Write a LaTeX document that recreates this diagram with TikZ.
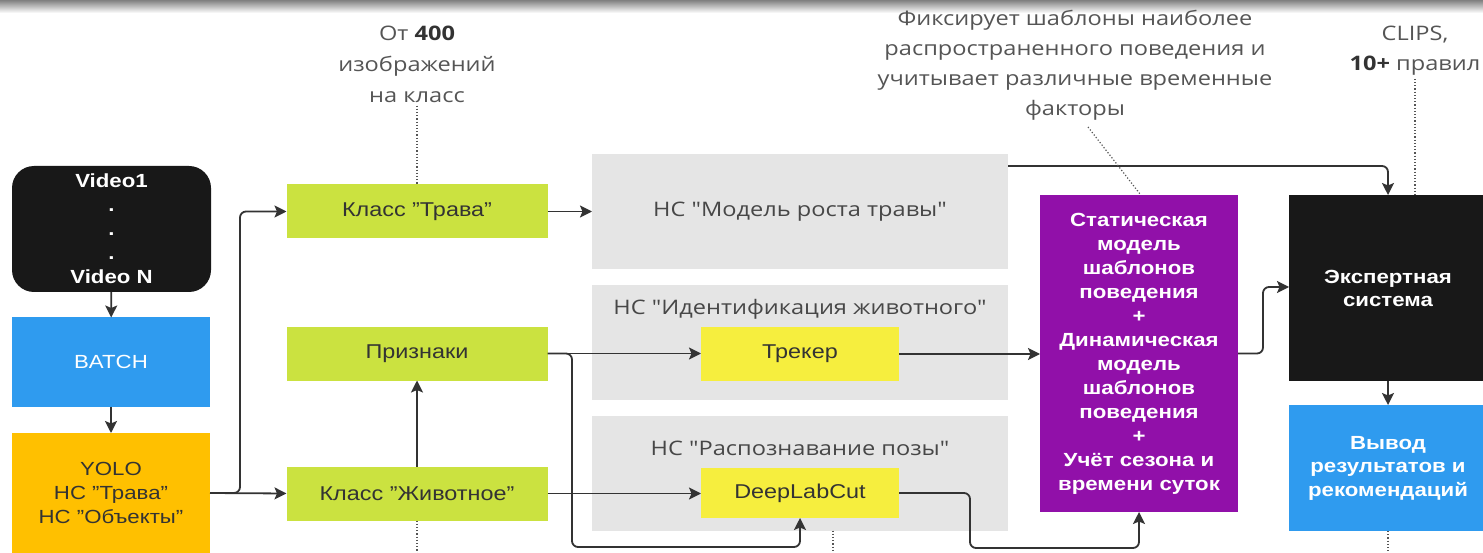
\documentclass[tikz,border=0pt]{standalone}
\usepackage{fontspec}
\setmainfont{Liberation Sans}[FakeStretch=1.17]
\newfontfamily\osans{Open Sans}[FakeStretch=1.18]
\usetikzlibrary{arrows.meta}

\definecolor{ink}{HTML}{333333}
\definecolor{note}{HTML}{555555}
\definecolor{lime}{HTML}{CBE240}
\definecolor{lemon}{HTML}{F6EE3E}
\definecolor{sky}{HTML}{2F9BEF}
\definecolor{amber}{HTML}{FFC000}
\definecolor{violet}{HTML}{9110A9}
\definecolor{panel}{HTML}{E5E5E5}
\definecolor{coal}{HTML}{181818}

\tikzset{
  blk/.style={inner sep=0pt, outer sep=0pt, align=center},
  dark/.style={blk, fill=coal, text=white},
  limebox/.style={blk, fill=lime, text=ink, minimum width=261pt, minimum height=54pt,
                  font=\fontsize{20}{24}\selectfont},
  lemonbox/.style={blk, fill=lemon, text=ink, minimum width=198pt, minimum height=52pt,
                  font=\fontsize{20}{24}\selectfont},
  panelbox/.style={blk, fill=panel, minimum width=416pt, minimum height=115pt},
  paneltitle/.style={inner sep=0pt, text=ink!90, font=\osans\fontsize{20}{24}\selectfont},
  noteText/.style={inner sep=0pt, align=center, text=note, font=\osans\fontsize{20}{30}\selectfont},
  arr/.style={draw=ink, line width=1.8pt, rounded corners=6pt,
              -{Stealth[length=12pt, width=12pt, inset=2.5pt]}},
  pointer/.style={draw=note, line width=1.2pt, dotted},
}

\begin{document}
\begin{tikzpicture}[x=1pt, y=-1pt]
\useasboundingbox (0,0) rectangle (1483,553);
\fill[white] (0,0) rectangle (1483,553);
\shade[top color=black!50, bottom color=white] (0,0) rectangle (1483,13);

% --- input column
\node[dark, rounded corners=22pt, minimum width=199pt, minimum height=126pt,
      font=\bfseries\fontsize{19}{24}\selectfont] (video) at (111.5,229)
      {Video1\\.\\.\\.\\Video N};
\node[blk, fill=sky, text=white, minimum width=198pt, minimum height=89pt,
      font=\fontsize{19}{24}\selectfont] (batch) at (111,362) {BATCH};
\node[blk, fill=amber, text=ink, minimum width=198pt, minimum height=120pt,
      font=\fontsize{19}{24}\selectfont] (yolo) at (111,493)
      {YOLO\\НС "Трава"\\НС "Объекты"};

% --- classes
\node[limebox] (trava) at (417,211.5) {Класс "Трава"};
\node[limebox] (priz) at (417,353.5) {Признаки};
\node[limebox] (zhiv) at (417,493.5) {Класс "Животное"};

% --- neural network panels
\node[panelbox] (model) at (800,212) {};
\node[paneltitle] at (model.center) {НС "Модель роста травы"};
\node[panelbox] (ident) at (800,342.5) {};
\node[paneltitle] at (800,309) {НС "Идентификация животного"};
\node[panelbox] (pose) at (800,473) {};
\node[paneltitle] at (800,448) {НС "Распознавание позы"};
\node[lemonbox, minimum height=54pt] (trek) at (800,354) {Трекер};
\node[lemonbox, minimum height=50pt] (dlc) at (800,493) {DeepLabCut};

% --- behaviour model
\node[blk, fill=violet, text=white, minimum width=198pt, minimum height=317pt,
      font=\bfseries\fontsize{19}{24}\selectfont] (patt) at (1139,353.5)
      {Статическая\\модель\\шаблонов\\поведения\\+\\Динамическая\\модель\\шаблонов\\поведения\\+\\Учёт сезона и\\времени суток};

% --- expert system and output
\node[dark, minimum width=198pt, minimum height=186pt,
      font=\bfseries\fontsize{19}{23}\selectfont] (expert) at (1388,288)
      {Экспертная\\система};
\node[blk, fill=sky, text=white, minimum width=198pt, minimum height=126pt,
      font=\bfseries\fontsize{19}{23.5}\selectfont] (out) at (1388,468)
      {Вывод\\результатов и\\рекомендаций};

% --- notes
\node[noteText, font=\osans\fontsize{20}{31}\selectfont] (n400) at (417,64)
      {От \textbf{\color{ink}400}\\изображений\\на класс};
\node[noteText] (nfix) at (1075,65)
      {Фиксирует шаблоны наиболее\\распространенного поведения и\\учитывает различные временные\\факторы};
\node[noteText] (nclips) at (1415,51) {CLIPS,\\\textbf{\color{ink}10+} правил};

% --- junction points
\coordinate (split) at (240,493);
\coordinate (fork) at (572,353.5);
\coordinate (low1) at (572,547);
\coordinate (bend) at (970,493);
\coordinate (low2) at (970,548);
\coordinate (rise) at (1263,353.5);
\coordinate (mtop) at (1008,166);

% --- connectors
\draw[arr] (video) -- (batch);
\draw[arr] (batch) -- (yolo);
\draw[arr] (yolo.east |- split) -- (split) |- (trava.west);
\draw[arr] (yolo.east |- split) -- (zhiv.west);
\draw[arr] (trava.east) -- (trava.east -| model.west);
\draw[arr] (zhiv.north) -- (priz.south);
\draw[arr] (priz.east) -- (priz.east -| trek.west);
\draw[arr] (priz.east) -- (fork) -- (low1) -| (dlc.south);
\draw[arr] (zhiv.east) -- (zhiv.east -| dlc.west);
\draw[arr] (trek.east) -- (trek.east -| patt.west);
\draw[arr] (dlc.east) -- (bend) -- (low2) -| (patt.south);
\draw[arr] (patt.east) -- (rise) |- (expert.west |- 0,287);
\draw[arr] (mtop) -| (expert.north);
\draw[arr] (expert) -- (out);

% --- note pointers
\draw[pointer] (n400.south) ++(0,3) -- (trava.north);
\draw[pointer] (zhiv.south) -- (417,553);
\draw[pointer] (pose.south -| 833,0) -- (833,553);
\draw[pointer] (1088,127) -- (1140,194);
\draw[pointer] (nclips.south) ++(0,3) -- (nclips.south |- expert.north);
\draw[pointer] (out.south) -- (1388,553);
\end{tikzpicture}
\end{document}
